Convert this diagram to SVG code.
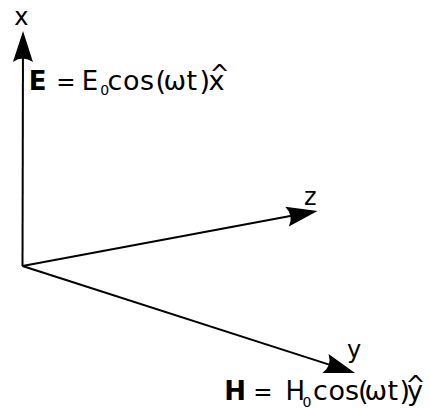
<svg xmlns="http://www.w3.org/2000/svg" width="429" height="409" viewBox="0 0 429 409">
<style>
.ax{fill:none;stroke:#000;stroke-width:2}
.t{font-family:"DejaVu Sans",sans-serif;fill:#000}
.lab{font-size:24px}
.cap{font-size:26px}
.eqs{font-size:23px}
.hat{font-size:24px}
.fn{font-size:27px}
.b{font-weight:bold}
.sub{font-size:14px}
</style>
<defs>
<marker id="ah" viewBox="-25 -12 37 24" refX="0" refY="0" markerWidth="37" markerHeight="24" markerUnits="userSpaceOnUse" orient="auto" overflow="visible">
<path d="M10,0 L-21,-10 Q-14,0 -21,10 Z" fill="#000"/>
</marker>
</defs>
<rect width="429" height="409" fill="#fff"/>
<g id="connectors">
<path class="ax" d="M22.5,266 L23,41" marker-end="url(#ah)"/>
<path class="ax" d="M22.5,266 L307.7,212.8" marker-end="url(#ah)"/>
<path class="ax" d="M22.5,266 L345.5,369.9" marker-end="url(#ah)"/>
</g>
<g id="label-x"><text class="t lab" x="14.3" y="25">x</text></g>
<g id="label-z"><text class="t lab" x="304" y="205">z</text></g>
<g id="label-y"><text class="t lab" x="347" y="358">y</text></g>
<g id="eq-E">
<text class="t" y="89.5"><tspan class="cap b" x="28.7">E</tspan><tspan class="eqs" x="56.3">=</tspan><tspan class="cap" x="81.8">E</tspan><tspan class="sub" x="100.3" y="94.5">0</tspan><tspan class="fn" x="107.6 123 140 155.5 163.5 186.5 199.5 208.5" y="89.5">cos(ωt)x</tspan><tspan class="hat" x="209.6" y="81.5">^</tspan></text>
</g>
<g id="eq-H">
<text class="t" y="400"><tspan class="cap b" x="224.2">H</tspan><tspan class="eqs" x="253.3">=</tspan><tspan class="cap" x="285.5">H</tspan><tspan class="sub" x="302.5" y="406.5">0</tspan><tspan class="fn" x="313 328.5 345 358 364.5 387.5 399.5 407" y="400">cos(ωt)y</tspan><tspan class="hat" x="405.6" y="392.5">^</tspan></text>
</g>
</svg>
